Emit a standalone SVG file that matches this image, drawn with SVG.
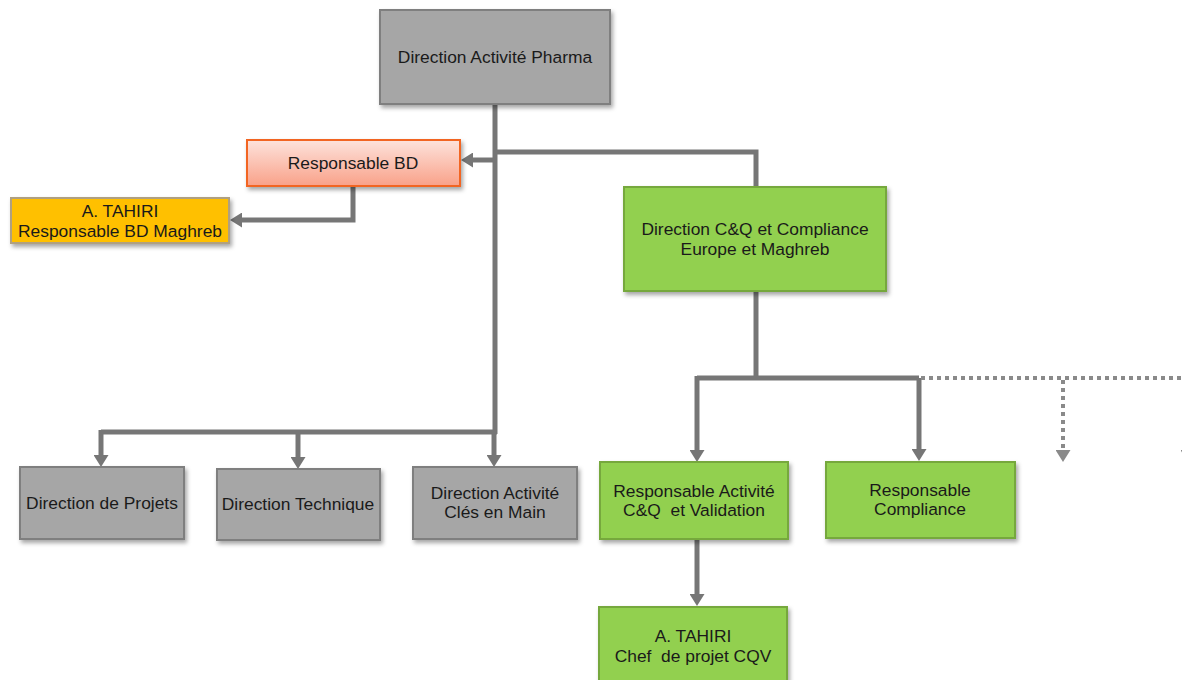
<svg xmlns="http://www.w3.org/2000/svg" width="1182" height="680" viewBox="0 0 1182 680">
<style>
.box{stroke-width:2}
.grey{fill:#a6a6a6;stroke:#7f7f7f}
.green{fill:#92d050;stroke:#76a83c}
.bd{fill:url(#gBD);stroke:#f26522}
.gold{fill:#ffc000;stroke:#b0a080}
.t{font-family:"Liberation Sans",Arial,sans-serif;font-size:17.4px;fill:#1a1a1a;text-anchor:middle}
.c{fill:none;stroke:#767676;stroke-width:5}
.d{fill:none;stroke:#8a8a8a;stroke-width:4;stroke-dasharray:4 4}
</style>
<defs>
<linearGradient id="gBD" x1="0" y1="0" x2="0" y2="1">
<stop offset="0" stop-color="#fde3dc"/>
<stop offset="1" stop-color="#f9a189"/>
</linearGradient>
<filter id="sh" x="-10%" y="-10%" width="130%" height="140%">
<feDropShadow dx="2" dy="3" stdDeviation="2" flood-color="#000" flood-opacity="0.35"/>
</filter>
<marker id="ah" viewBox="0 0 12 15" refX="0" refY="7.5" markerWidth="12" markerHeight="15" markerUnits="userSpaceOnUse" orient="auto">
<path d="M0,0 L12,7.5 L0,15 z" fill="#767676"/>
</marker>
<marker id="ahd" viewBox="0 0 12 15" refX="0" refY="7.5" markerWidth="12" markerHeight="15" markerUnits="userSpaceOnUse" orient="auto">
<path d="M0,0 L12,7.5 L0,15 z" fill="#8a8a8a"/>
</marker>
</defs>
<g id="connectors">
<path class="c" d="M495,104 V434"/>
<path class="c" d="M495,152 H756 V187"/>
<path class="c" d="M497,160 H473" marker-end="url(#ah)"/>
<path class="c" d="M353,186 V220 H242" marker-end="url(#ah)"/>
<path class="c" d="M101,432 H497"/>
<path class="c" d="M101,430 V455" marker-end="url(#ah)"/>
<path class="c" d="M298,432 V457" marker-end="url(#ah)"/>
<path class="c" d="M494,432 V455" marker-end="url(#ah)"/>
<path class="c" d="M756,291 V380"/>
<path class="c" d="M697,378 H919"/>
<path class="c" d="M697,376 V450" marker-end="url(#ah)"/>
<path class="c" d="M919,378 V449" marker-end="url(#ah)"/>
<path class="c" d="M697,539 V594" marker-end="url(#ah)"/>
<path class="d" d="M921,378 H1182"/>
<path class="d" d="M1063,380 V450" marker-end="url(#ahd)"/>
<path class="d" d="M1188,380 V450" marker-end="url(#ahd)"/>
</g>
<g id="n-pharma"><rect class="box grey" x="380" y="10" width="230" height="94" filter="url(#sh)"/><text class="t" x="495" y="63">Direction Activité Pharma</text></g>
<g id="n-bd"><rect class="box bd" x="247" y="140" width="213" height="46" filter="url(#sh)"/><text class="t" x="353" y="169">Responsable BD</text></g>
<g id="n-tahiri-bd"><rect class="box gold" x="11" y="198" width="218" height="45" filter="url(#sh)"/><text class="t" x="120" y="217">A. TAHIRI</text><text class="t" x="120" y="237">Responsable BD Maghreb</text></g>
<g id="n-cq"><rect class="box green" x="624" y="187" width="262" height="104" filter="url(#sh)"/><text class="t" x="755" y="235">Direction C&amp;Q et Compliance</text><text class="t" x="755" y="255">Europe et Maghreb</text></g>
<g id="n-projets"><rect class="box grey" x="20" y="467" width="164" height="72" filter="url(#sh)"/><text class="t" x="102" y="509">Direction de Projets</text></g>
<g id="n-technique"><rect class="box grey" x="217" y="469" width="163" height="71" filter="url(#sh)"/><text class="t" x="298" y="510">Direction Technique</text></g>
<g id="n-cles"><rect class="box grey" x="413" y="467" width="164" height="72" filter="url(#sh)"/><text class="t" x="495" y="499">Direction Activité</text><text class="t" x="495" y="518">Clés en Main</text></g>
<g id="n-validation"><rect class="box green" x="600" y="462" width="188" height="77" filter="url(#sh)"/><text class="t" x="694" y="497">Responsable Activité</text><text class="t" x="694" y="516" xml:space="preserve">C&amp;Q  et Validation</text></g>
<g id="n-compliance"><rect class="box green" x="826" y="462" width="189" height="76" filter="url(#sh)"/><text class="t" x="920" y="496">Responsable</text><text class="t" x="920" y="515">Compliance</text></g>
<g id="n-tahiri-cqv"><rect class="box green" x="599" y="607" width="188" height="80" filter="url(#sh)"/><text class="t" x="693" y="642">A. TAHIRI</text><text class="t" x="693" y="662" xml:space="preserve">Chef  de projet CQV</text></g>
</svg>
